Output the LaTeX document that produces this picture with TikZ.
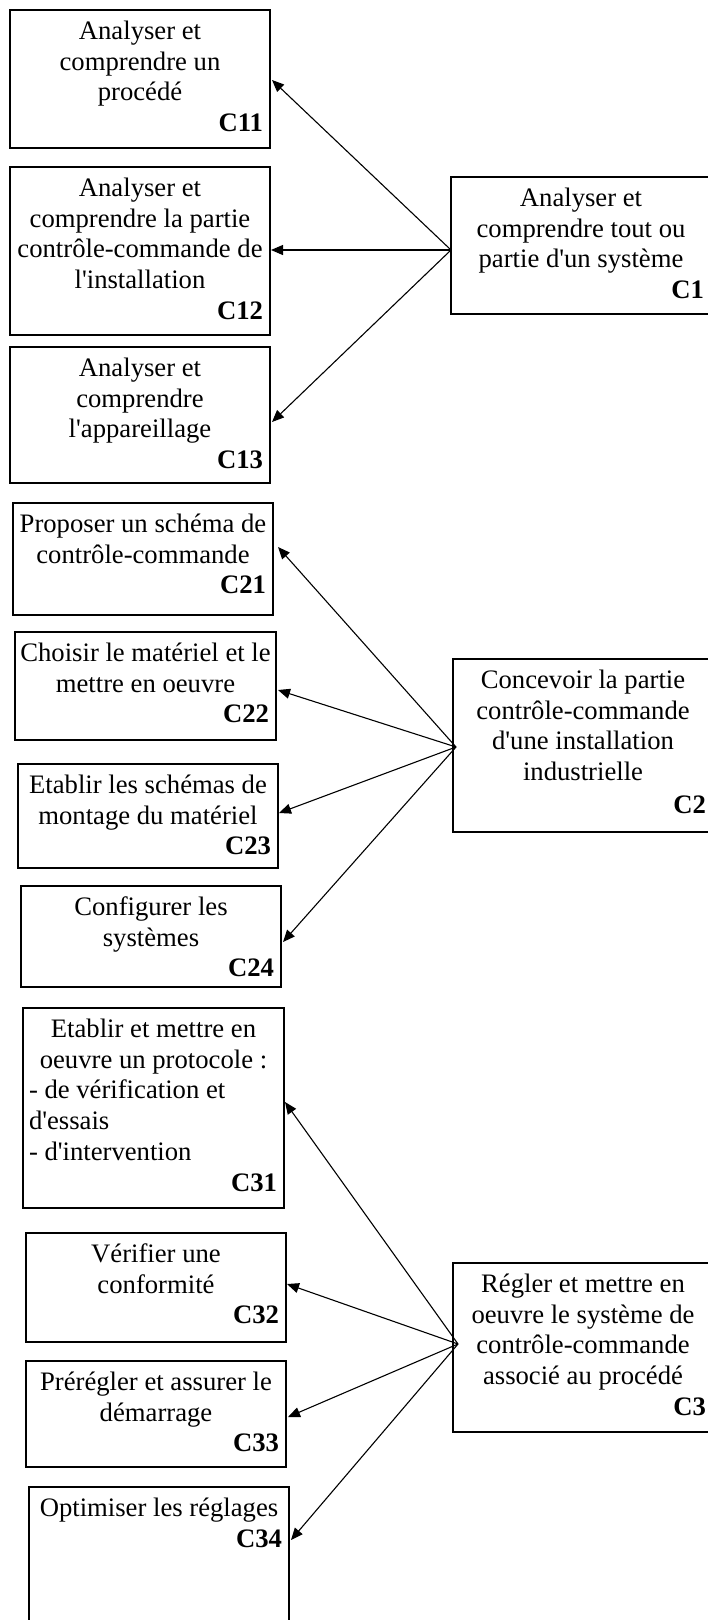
\documentclass[tikz,border=0pt]{standalone}
\usepackage{fontspec}
\setmainfont{Liberation Serif}[Ligatures=TeXOff]
\usetikzlibrary{arrows.meta}
\setlength\parindent{0pt}
\tikzset{
  cbx/.style={draw, line width=2pt, inner sep=0pt, outer sep=0pt, anchor=north west},
  ctx/.style={inner sep=0pt, outer sep=0pt, anchor=north, align=center,
              font=\fontsize{26.67}{30.7}\selectfont},
  arr/.style={line width=1.1pt, -{Triangle[length=12pt,width=10pt]}},
}
\newcommand\clab[1]{\makebox[\cboxtw pt][r]{\textbf{#1}\hspace{5pt}}}
\newcommand\cleft[1]{\makebox[\cboxtw pt][l]{\hspace{4pt}#1}}
\newcommand\cbox[6]{%
  \pgfmathsetmacro{\cboxtw}{#4-4}%
  \node[cbx, minimum width=#4, minimum height=#5] (#1) at (#2,#3) {};
  \node[ctx] (#1t) at ([yshift=-8]#1.north) {\strut #6};
}
\begin{document}
\begin{tikzpicture}[x=1pt,y=-1pt]
\useasboundingbox (0,0) rectangle (708,1620);
\clip (0,0) rectangle (708,1620);
% group 1
\cbox{c11}{10}{10}{260}{138}{Analyser et\\comprendre un\\procédé\\\clab{C11}}
\cbox{c12}{10}{167}{260}{168}{Analyser et\\comprendre la partie\\contrôle-commande de\\l'installation\\\clab{C12}}
\cbox{c13}{10}{347}{260}{136}{Analyser et\\comprendre\\l'appareillage\\\clab{C13}}
\cbox{c1}{451}{177}{260}{137}{Analyser et\\comprendre tout ou\\partie d'un système\\\clab{C1}}
% group 2
\cbox{c21}{13}{503}{260}{112}{Proposer un schéma de\\contrôle-commande\\\clab{C21}}
\cbox{c22}{15}{632}{261}{108}{Choisir le matériel et le\\mettre en oeuvre\\\clab{C22}}
\cbox{c23}{18}{764}{260}{104}{Etablir les schémas de\\montage du matériel\\\clab{C23}}
\cbox{c24}{21}{886}{260}{101}{Configurer les\\systèmes\\\clab{C24}}
\cbox{c2}{453}{659}{260}{173}{Concevoir la partie\\contrôle-commande\\d'une installation\\industrielle\\[2pt]\clab{C2}}
% group 3
\cbox{c31}{23}{1008}{261}{200}{Etablir et mettre en\\oeuvre un protocole :\\\cleft{- de vérification et}\\\cleft{d'essais}\\\cleft{- d'intervention}\\\clab{C31}}
\cbox{c32}{26}{1233}{260}{109}{Vérifier une\\conformité\\\clab{C32}}
\cbox{c33}{26}{1361}{260}{106}{Prérégler et assurer le\\démarrage\\\clab{C33}}
\cbox{c34}{29}{1487}{260}{160}{Optimiser les réglages\\\clab{C34}}
\cbox{c3}{453}{1263}{260}{169}{Régler et mettre en\\oeuvre le système de\\contrôle-commande\\associé au procédé\\\clab{C3}}
% sources
\coordinate (s1) at ([yshift=-4.5]c1.west);
\coordinate (s2) at ([xshift=3,yshift=-1.5]c2.west);
\coordinate (s3) at ([xshift=5,yshift=3.5]c3.west);
% connectors
\draw[arr] (s1) -- ([xshift=2,yshift=-1]c11.east);
\draw[arr] (s1) -- ([xshift=1,yshift=1]c12.east);
\draw[arr] (s1) -- ([xshift=2,yshift=-7]c13.east);
\draw[arr] (s2) -- ([xshift=5,yshift=12]c21.east);
\draw[arr] (s2) -- ([xshift=2,yshift=-4]c22.east);
\draw[arr] (s2) -- ([xshift=1,yshift=3]c23.east);
\draw[arr] (s2) -- ([xshift=2,yshift=-5.5]c24.east);
\draw[arr] (s3) -- ([xshift=1,yshift=6]c31.east);
\draw[arr] (s3) -- ([xshift=1,yshift=3.5]c32.east);
\draw[arr] (s3) -- ([xshift=2,yshift=-3]c33.east);
\draw[arr] (s3) -- ([xshift=2,yshift=27]c34.east);
\end{tikzpicture}
\end{document}
